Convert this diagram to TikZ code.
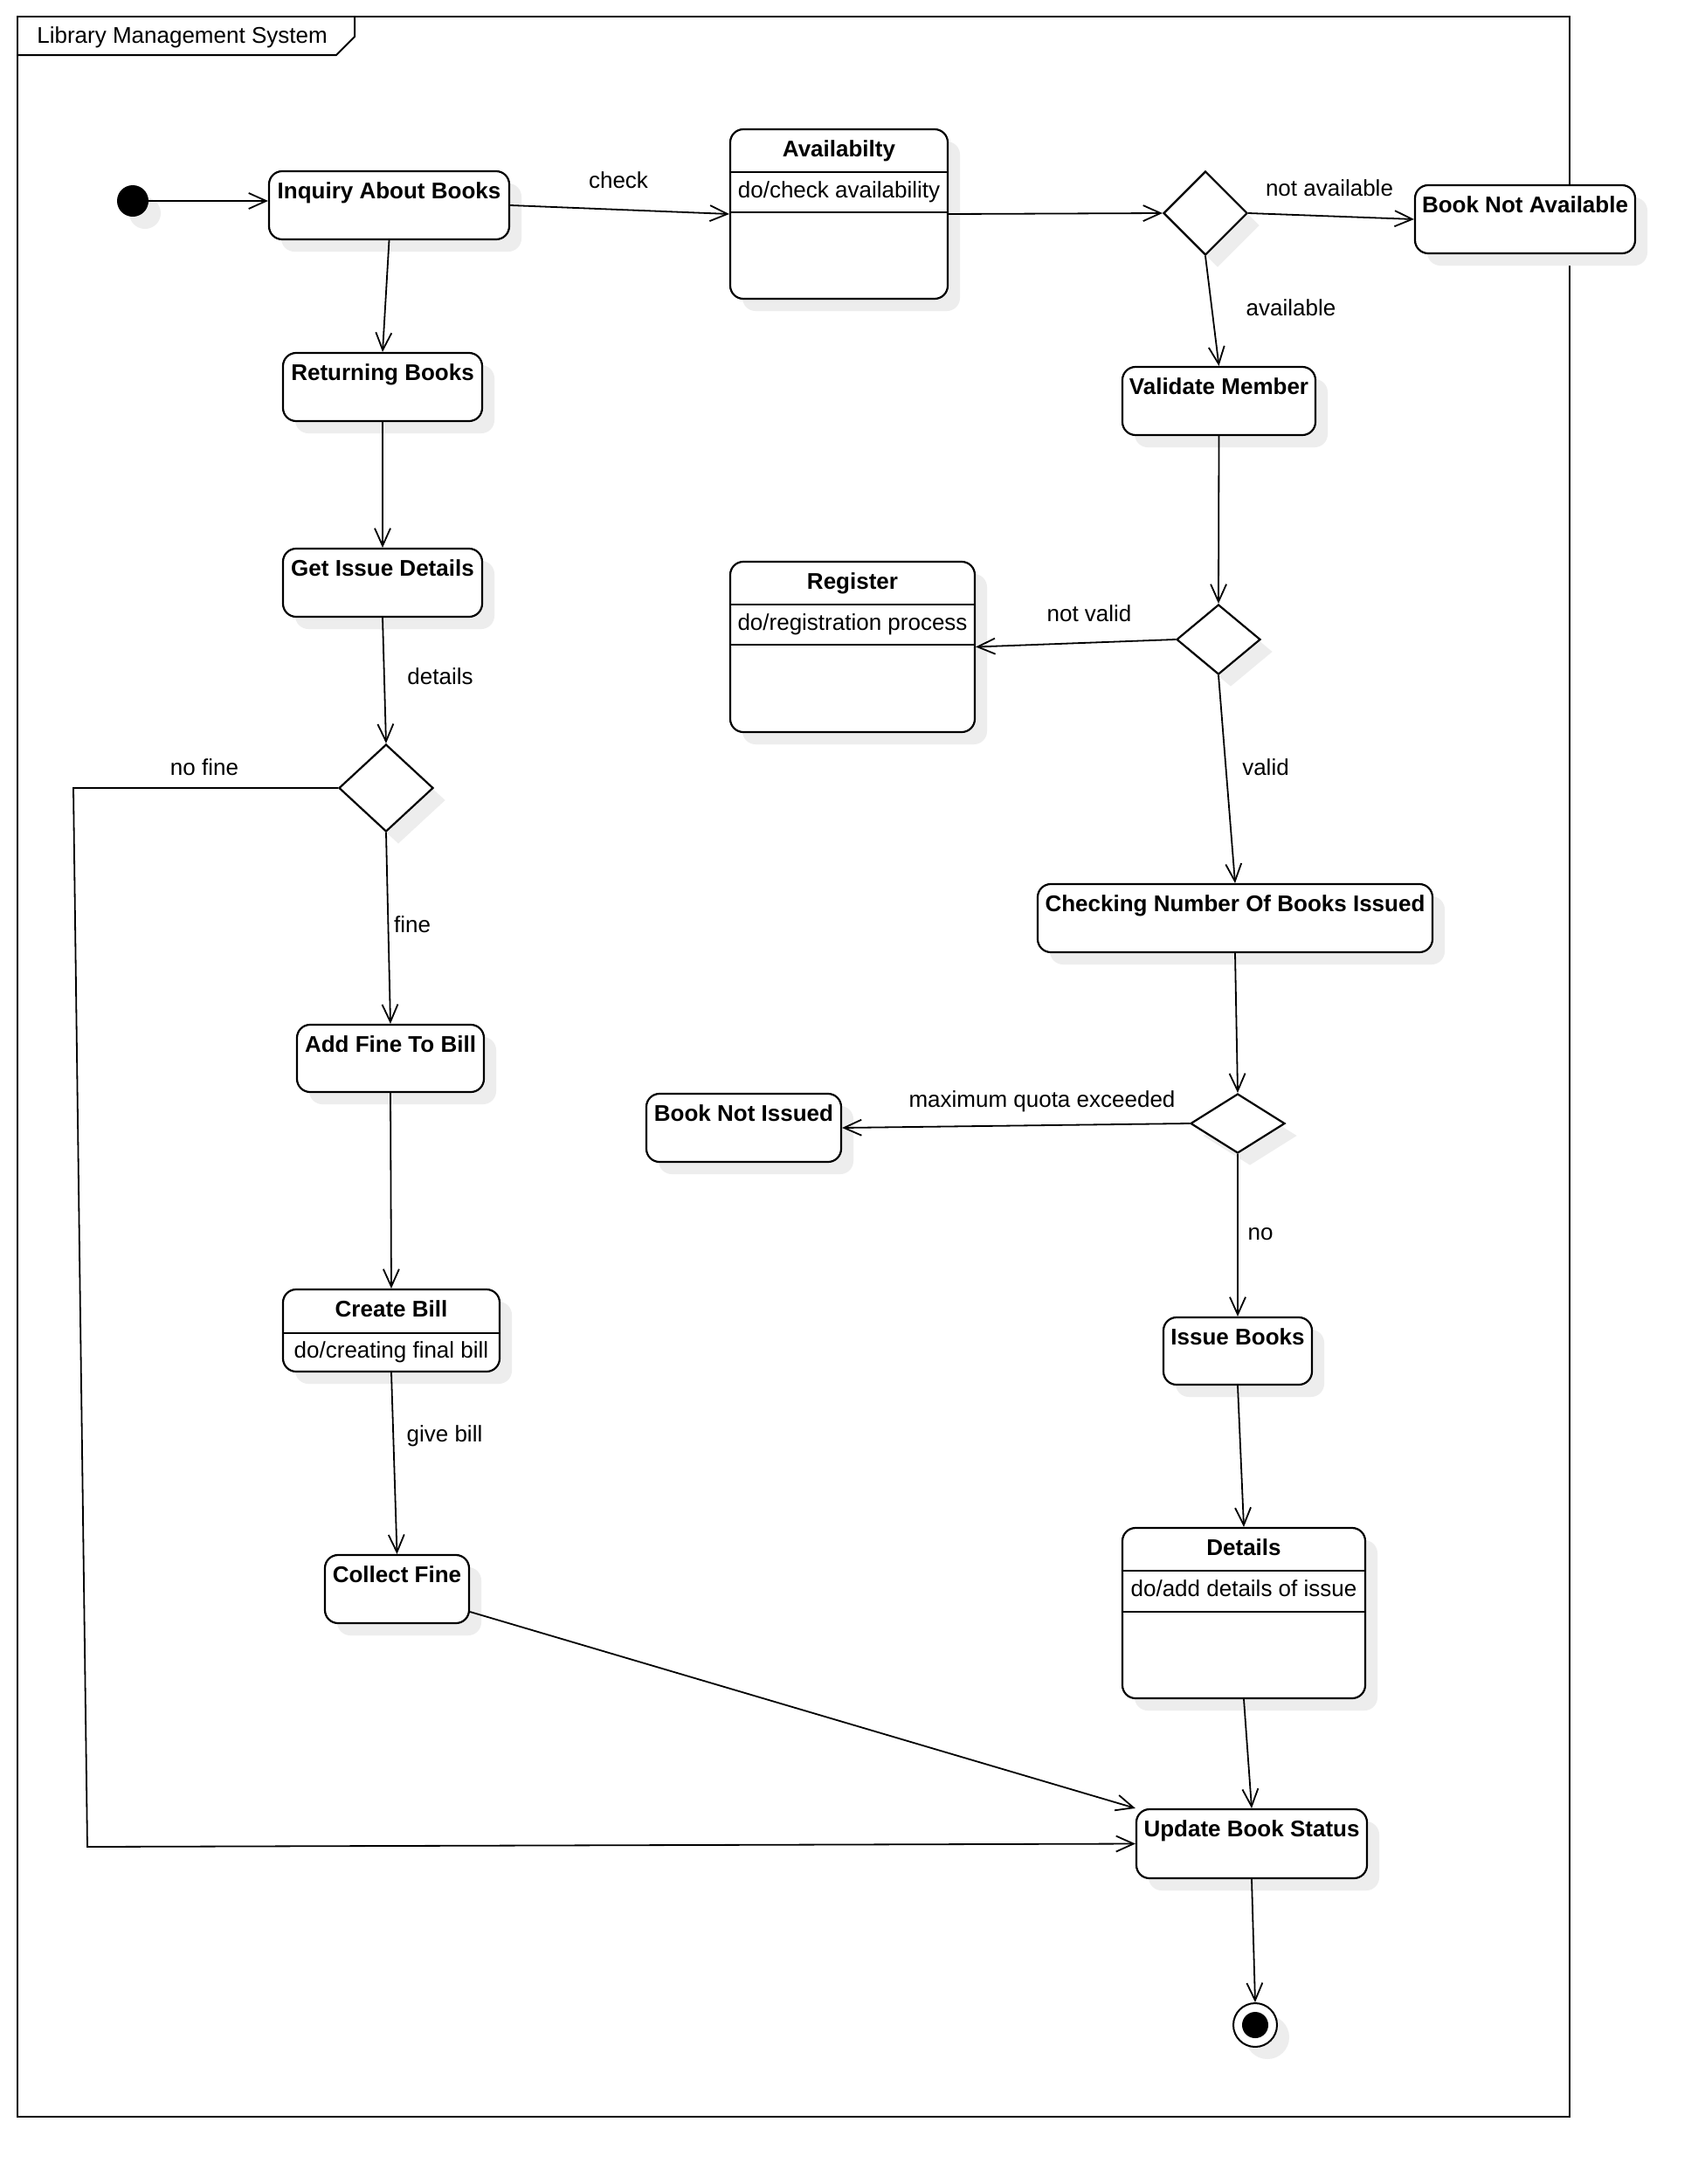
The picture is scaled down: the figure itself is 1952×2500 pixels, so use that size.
\documentclass[tikz,border=0pt]{standalone}
\usepackage{fontspec}
\setmainfont{Liberation Sans}
\usetikzlibrary{arrows.meta,shapes.geometric,shadows,calc}
\begin{document}
\begin{tikzpicture}[x=0.5pt,y=-0.5pt,
  font=\fontsize{13}{15.6}\selectfont,
  shdw/.style={drop shadow={shadow xshift=7pt,shadow yshift=-7pt,fill=black!7,opacity=1}},
  wh/.style 2 args={minimum width=#1*0.5pt,minimum height=#2*0.5pt},
  state/.style={draw,line width=1.1pt,rounded corners=7.5pt,fill=white,shdw,inner sep=0pt},
  dec/.style={diamond,draw,line width=1.1pt,fill=white,shdw,inner sep=0pt},
  flow/.style={line width=0.9pt,-{Straight Barb[length=10pt,width=9pt,line width=0.9pt]}},
  lbl/.style={anchor=base,inner sep=0pt},
  ttl/.style={anchor=base,inner sep=0pt,font=\fontsize{13}{15.6}\selectfont\bfseries},
  sepline/.style={line width=1.1pt},
]
\fill[white] (0,0) rectangle (1952,2500);
\useasboundingbox (0,0) rectangle (1952,2500);

% frame
\draw[line width=1pt] (20,19) rectangle (1797,2423);
\draw[line width=1pt] (20,63) -- (385,63) -- (406,42) -- (406,19);
\node[anchor=base west,inner sep=0pt] (frt) at (42,49) {Library Management System};

% start / end
\node[circle,fill=black,minimum size=36*0.5pt,inner sep=0pt,shdw] (init) at (152,230) {};
\node[circle,draw,line width=1pt,fill=white,minimum size=50*0.5pt,inner sep=0pt,shdw] (fin) at (1437,2318) {};
\node[circle,fill=black,minimum size=30*0.5pt,inner sep=0pt] (finc) at (fin) {};

% left column
\node[state,wh={275}{78}] (inq) at (445.5,235) {};
\node[ttl] (inqt) at ([yshift=-16.5pt]inq.north) {Inquiry About Books};
\node[state,wh={228}{78}] (ret) at (438,443) {};
\node[ttl] (rett) at ([yshift=-16.5pt]ret.north) {Returning Books};
\node[state,wh={228}{78}] (gid) at (438,667) {};
\node[ttl] (gidt) at ([yshift=-16.5pt]gid.north) {Get Issue Details};
\node[dec,wh={108}{100}] (d3) at (442,902) {};
\node[state,wh={214}{77}] (afb) at (447,1211.5) {};
\node[ttl] (afbt) at ([yshift=-16.5pt]afb.north) {Add Fine To Bill};
\node[state,wh={248}{94}] (cb) at (448,1523) {};
\node[ttl] (cbt) at ([yshift=-16.5pt]cb.north) {Create Bill};
\draw[sepline] ([yshift=-25.5pt]cb.north west) -- ([yshift=-25.5pt]cb.north east);
\node[lbl] (cbd) at ([yshift=-40pt]cb.north) {do/creating final bill};
\node[state,wh={165}{78}] (cf) at (454.5,1819) {};
\node[ttl] (cft) at ([yshift=-16.5pt]cf.north) {Collect Fine};

% middle / right
\node[state,wh={249}{194}] (avail) at (960.5,245) {};
\node[ttl] (availt) at ([yshift=-16.5pt]avail.north) {Availabilty};
\draw[sepline] ([yshift=-25pt]avail.north west) -- ([yshift=-25pt]avail.north east);
\draw[sepline] ([yshift=-48pt]avail.north west) -- ([yshift=-48pt]avail.north east);
\node[lbl] (availd) at ([yshift=-40pt]avail.north) {do/check availability};

\node[dec,wh={96}{96}] (d1) at (1380,244) {};
\node[state,wh={252}{78}] (bna) at (1746,251) {};
\node[ttl] (bnat) at ([yshift=-16.5pt]bna.north) {Book Not Available};
\node[state,wh={221}{78}] (vm) at (1395.5,459) {};
\node[ttl] (vmt) at ([yshift=-16.5pt]vm.north) {Validate Member};
\node[dec,wh={96}{80}] (d2) at (1395,732) {};

\node[state,wh={280}{195}] (reg) at (976,740.5) {};
\node[ttl] (regt) at ([yshift=-16.5pt]reg.north) {Register};
\draw[sepline] ([yshift=-25pt]reg.north west) -- ([yshift=-25pt]reg.north east);
\draw[sepline] ([yshift=-48pt]reg.north west) -- ([yshift=-48pt]reg.north east);
\node[lbl] (regd) at ([yshift=-40pt]reg.north) {do/registration process};

\node[state,wh={452}{78}] (cnb) at (1414,1051) {};
\node[ttl] (cnbt) at ([yshift=-16.5pt]cnb.north) {Checking Number Of Books Issued};
\node[dec,wh={108}{68}] (d4) at (1417,1286) {};
\node[state,wh={223}{78}] (bni) at (851.5,1291) {};
\node[ttl] (bnit) at ([yshift=-16.5pt]bni.north) {Book Not Issued};
\node[state,wh={170}{77}] (ib) at (1417,1546.5) {};
\node[ttl] (ibt) at ([yshift=-16.5pt]ib.north) {Issue Books};

\node[state,wh={278}{195}] (det) at (1424,1846.5) {};
\node[ttl] (dett) at ([yshift=-16.5pt]det.north) {Details};
\draw[sepline] ([yshift=-25pt]det.north west) -- ([yshift=-25pt]det.north east);
\draw[sepline] ([yshift=-48.5pt]det.north west) -- ([yshift=-48.5pt]det.north east);
\node[lbl] (detd) at ([yshift=-40pt]det.north) {do/add details of issue};

\node[state,wh={264}{79}] (ubs) at (1433,2110.5) {};
\node[ttl] (ubst) at ([yshift=-16.5pt]ubs.north) {Update Book Status};

% helper coordinates
\coordinate (nf1) at (84,902);
\coordinate (nf2) at (100,2114);

% connectors
\draw[flow] (init.east) -- (init.east -| inq.west);
\draw[flow] (inq.east) -- (avail.west);
\draw[flow] (avail.east) -- (d1.west);
\draw[flow] (d1.east) -- (bna.west);
\draw[flow] (d1.south) -- (vm.north);
\draw[flow] (vm.south) -- (d2.north);
\draw[flow] (d2.west) -- (reg.east);
\draw[flow] (d2.south) -- (cnb.north);
\draw[flow] (cnb.south) -- (d4.north);
\draw[flow] (d4.west) -- (bni.east);
\draw[flow] (d4.south) -- (ib.north);
\draw[flow] (ib.south) -- (det.north);
\draw[flow] (det.south) -- (ubs.north);
\draw[flow] (ubs.south) -- (fin.north);
\draw[flow] (inq.south) -- (ret.north);
\draw[flow] (ret.south) -- (gid.north);
\draw[flow] (gid.south) -- (d3.north);
\draw[flow] (d3.south) -- (afb.north);
\draw[flow] (afb.south) -- (cb.north);
\draw[flow] (cb.south) -- (cf.north);
\draw[flow] ([yshift=-13pt]cf.east) -- (ubs.north west);
\draw[flow] (d3.west) -- (nf1) -- (nf2) -- (ubs.west);

% connector labels
\node[lbl] (lcheck) at (708,215) {check};
\node[lbl] (lnav) at (1522,224) {not available};
\node[lbl] (lav) at (1478,361) {available};
\node[lbl] (lnv) at (1247,711) {not valid};
\node[lbl] (lv) at (1449,887) {valid};
\node[lbl] (lmq) at (1193,1267) {maximum quota exceeded};
\node[lbl] (lno) at (1443,1419) {no};
\node[lbl] (ldet) at (504,783) {details};
\node[lbl] (lnf) at (234,887) {no fine};
\node[lbl] (lf) at (472,1067) {fine};
\node[lbl] (lgb) at (509,1650) {give bill};
\end{tikzpicture}
\end{document}
